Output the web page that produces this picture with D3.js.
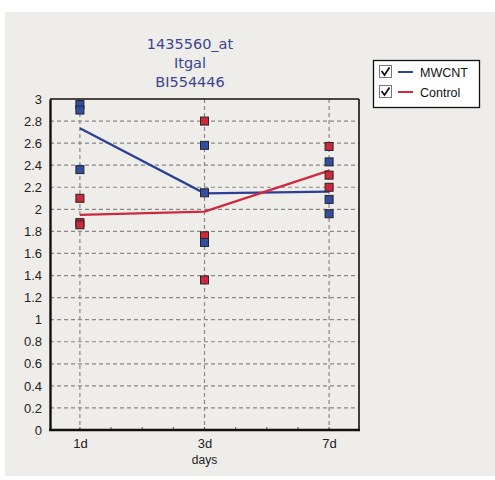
<!DOCTYPE html>
<html>
<head>
<meta charset="utf-8">
<script src="https://cdn.jsdelivr.net/npm/d3@7"></script>
<style>
  html, body { margin: 0; padding: 0; background: #ffffff; }
  svg { display: block; }
</style>
</head>
<body>
<svg id="chart" width="495" height="480"></svg>
<script>
// Time points on the x axis
const days = ["1d", "3d", "7d"];

// Replicate measurements per time point
const mwcntPoints = [
  [2.95, 2.90, 2.36],
  [2.58, 2.15, 1.70],
  [2.43, 2.09, 1.96]
];
const controlPoints = [
  [2.10, 1.88, 1.86],
  [2.80, 1.76, 1.36],
  [2.57, 2.31, 2.20]
];

// Group means joined by lines
const mwcntMean = [2.735, 2.145, 2.16];
const controlMean = [1.95, 1.98, 2.35];

// Y axis tick labels
const yTicks = [0, 0.2, 0.4, 0.6, 0.8, 1, 1.2, 1.4, 1.6, 1.8, 2, 2.2, 2.4, 2.6, 2.8, 3];

const titleLines = ["1435560_at", "Itgal", "BI554446"];
const xTitle = "days";
const seriesNames = ["MWCNT", "Control"];

const colors = {
  mwcnt: "#2b3f96",
  mwcntFill: "#2f4fa0",
  control: "#d02840",
  controlFill: "#cc2a3c"
};

const svg = d3.select("#chart");

// Page background panel
svg.append("rect")
  .attr("x", 5).attr("y", 12).attr("width", 490).attr("height", 464)
  .attr("fill", "#efedea");

const plot = { left: 50, right: 359, top: 99, bottom: 430 };

const x = d3.scalePoint()
  .domain(days)
  .range([plot.left, plot.right])
  .padding(0.24);

const y = d3.scaleLinear()
  .domain([0, 3])
  .range([plot.bottom, plot.top]);

// Plot area background
svg.append("rect")
  .attr("x", plot.left).attr("y", plot.top)
  .attr("width", plot.right - plot.left).attr("height", plot.bottom - plot.top)
  .attr("fill", "#efedea");

// Horizontal dashed grid
svg.append("g")
  .selectAll("line")
  .data(yTicks.filter(d => d > 0 && d < 3))
  .join("line")
  .attr("x1", plot.left).attr("x2", plot.right)
  .attr("y1", d => y(d)).attr("y2", d => y(d))
  .attr("stroke", "#8a8886")
  .attr("stroke-width", 1.2)
  .attr("stroke-dasharray", "4,3");

// Vertical dashed grid at each time point
svg.append("g")
  .selectAll("line")
  .data(days)
  .join("line")
  .attr("x1", d => x(d)).attr("x2", d => x(d))
  .attr("y1", plot.top).attr("y2", plot.bottom)
  .attr("stroke", "#8a8886")
  .attr("stroke-width", 1.2)
  .attr("stroke-dasharray", "4,3");

// Minor ticks along the bottom axis
const step = x.step();
const minor = d3.range(0, 9).map(k => x(days[0]) + k * step / 4);
svg.append("g")
  .selectAll("line")
  .data(minor)
  .join("line")
  .attr("x1", d => d).attr("x2", d => d)
  .attr("y1", plot.bottom).attr("y2", plot.bottom - 3)
  .attr("stroke", "#555")
  .attr("stroke-width", 1);

// Frame: thin top/right, heavy left/bottom
svg.append("line")
  .attr("x1", plot.left).attr("x2", plot.right)
  .attr("y1", plot.top).attr("y2", plot.top)
  .attr("stroke", "#111").attr("stroke-width", 1.3);
svg.append("line")
  .attr("x1", plot.right).attr("x2", plot.right)
  .attr("y1", plot.top).attr("y2", plot.bottom)
  .attr("stroke", "#111").attr("stroke-width", 1.6);

// Y axis
const yAxis = d3.axisLeft(y)
  .tickValues(yTicks)
  .tickFormat(d3.format("~g"))
  .tickSize(0)
  .tickPadding(8);
const gy = svg.append("g")
  .attr("transform", `translate(${plot.left},0)`)
  .call(yAxis);
gy.select(".domain").attr("stroke", "#111").attr("stroke-width", 2.4);
gy.selectAll("text")
  .attr("font-family", "Liberation Sans, Arial, sans-serif")
  .attr("font-size", 13)
  .attr("fill", "#222");

// X axis
const xAxis = d3.axisBottom(x).tickSize(0).tickPadding(9);
const gx = svg.append("g")
  .attr("transform", `translate(0,${plot.bottom})`)
  .call(xAxis);
gx.select(".domain").attr("stroke", "#111").attr("stroke-width", 2.4)
  .attr("d", `M${plot.left - 1},0H${plot.right + 1}`);
gx.selectAll("text")
  .attr("font-family", "Liberation Sans, Arial, sans-serif")
  .attr("font-size", 13)
  .attr("fill", "#222");

svg.append("text")
  .attr("x", x(days[1])).attr("y", 464)
  .attr("text-anchor", "middle")
  .attr("font-family", "Liberation Sans, Arial, sans-serif")
  .attr("font-size", 12)
  .attr("fill", "#222")
  .text(xTitle);

// Mean lines
const line = d3.line()
  .x((d, i) => x(days[i]))
  .y(d => y(d));

svg.append("path")
  .datum(mwcntMean)
  .attr("d", line)
  .attr("fill", "none")
  .attr("stroke", colors.mwcnt)
  .attr("stroke-width", 2.3);

svg.append("path")
  .datum(controlMean)
  .attr("d", line)
  .attr("fill", "none")
  .attr("stroke", colors.control)
  .attr("stroke-width", 2.3);

// Replicate markers
function flatten(points) {
  return points.flatMap((vals, i) => vals.map(v => ({ day: days[i], v })));
}
const sq = 8;
function drawMarkers(points, fill) {
  svg.append("g")
    .selectAll("rect")
    .data(flatten(points))
    .join("rect")
    .attr("x", d => x(d.day) - sq / 2)
    .attr("y", d => y(d.v) - sq / 2)
    .attr("width", sq).attr("height", sq)
    .attr("fill", fill)
    .attr("stroke", "#2a2226")
    .attr("stroke-width", 1);
}
drawMarkers(controlPoints, colors.controlFill);
drawMarkers(mwcntPoints, colors.mwcntFill);

// Title
svg.append("g")
  .selectAll("text")
  .data(titleLines)
  .join("text")
  .attr("x", 190)
  .attr("y", (d, i) => 49 + i * 19)
  .attr("text-anchor", "middle")
  .attr("font-family", "DejaVu Sans, sans-serif")
  .attr("font-size", 14.5)
  .attr("fill", "#3d4490")
  .text(d => d);

// Legend
const legend = svg.append("g");
legend.append("rect")
  .attr("x", 373.5).attr("y", 60.5).attr("width", 106).attr("height", 47)
  .attr("fill", "#ffffff")
  .attr("stroke", "#111")
  .attr("stroke-width", 1.3);

const legendItems = [
  { name: seriesNames[0], color: colors.mwcnt },
  { name: seriesNames[1], color: colors.control }
];
const rows = legend.selectAll("g.item")
  .data(legendItems)
  .join("g")
  .attr("class", "item")
  .attr("transform", (d, i) => `translate(0,${72 + i * 20})`);

rows.append("rect")
  .attr("x", 379.5).attr("y", -6.5).attr("width", 12).attr("height", 12)
  .attr("fill", "#fff")
  .attr("stroke", "#777")
  .attr("stroke-width", 1);
rows.append("path")
  .attr("d", "M381.5,-1 L384.5,3 L389.5,-4.5")
  .attr("fill", "none")
  .attr("stroke", "#111")
  .attr("stroke-width", 1.8);
rows.append("line")
  .attr("x1", 398).attr("x2", 413)
  .attr("y1", 0).attr("y2", 0)
  .attr("stroke", d => d.color)
  .attr("stroke-width", 2);
rows.append("text")
  .attr("x", 420).attr("y", 4.5)
  .attr("font-family", "Liberation Sans, Arial, sans-serif")
  .attr("font-size", 12.5)
  .attr("fill", "#111")
  .text(d => d.name);
</script>
</body>
</html>
